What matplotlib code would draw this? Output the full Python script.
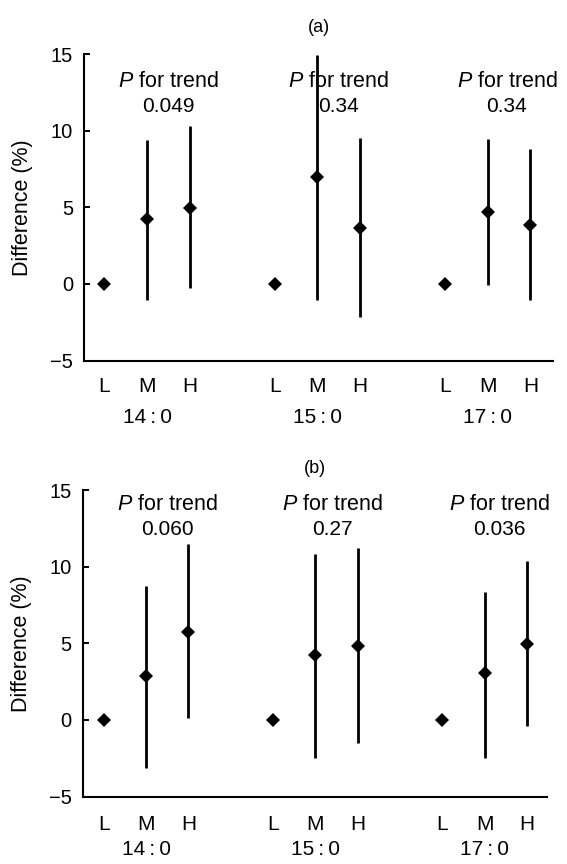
import matplotlib
matplotlib.use("Agg")
import matplotlib.pyplot as plt

plt.rcParams["font.family"] = ["Liberation Sans", "DejaVu Sans"]
plt.rcParams["mathtext.fontset"] = "custom"
plt.rcParams["mathtext.rm"] = "Liberation Sans"
plt.rcParams["mathtext.it"] = "Liberation Sans:italic"

# ---- data ----
fatty_acids = ["14\u2009:\u20090", "15\u2009:\u20090", "17\u2009:\u20090"]
levels = ["L", "M", "H"]

# panel (a)
diff_a = [[0, 4.21, 4.93], [0, 6.99, 3.66], [0, 4.71, 3.84]]
low_a = [[0, -1.07, -0.30], [0, -1.07, -2.16], [0, -0.08, -1.07]]
high_a = [[0, 9.38, 10.31], [0, 14.95, 9.54], [0, 9.46, 8.80]]
p_trend_a = ["0.049", "0.34", "0.34"]

# panel (b)
diff_b = [[0, 2.87, 5.74], [0, 4.22, 4.83], [0, 3.04, 4.93]]
low_b = [[0, -3.11, 0.15], [0, -2.52, -1.48], [0, -2.46, -0.39]]
high_b = [[0, 8.74, 11.46], [0, 10.85, 11.24], [0, 8.37, 10.37]]
p_trend_b = ["0.060", "0.27", "0.036"]

panel_titles = ["(a)", "(b)"]
y_ticks = [-5, 0, 5, 10, 15]

fig = plt.figure(figsize=(5.67, 8.64), dpi=100)

panels = [
    dict(rect=[84 / 567, 1 - 360.5 / 864, 469 / 567, 306.5 / 864], xlim=(-0.48, 10.53),
         diff=diff_a, low=low_a, high=high_a, p=p_trend_a, title=panel_titles[0],
         p_y=13.2, num_y=11.55, p_x=[1.5, 5.5, 9.45], tick_pad=12, grp_y=-0.186, title_y=1.085),
    dict(rect=[82.7 / 567, 1 - 796.5 / 864, 464 / 567, 306.5 / 864], xlim=(-0.50, 10.47),
         diff=diff_b, low=low_b, high=high_b, p=p_trend_b, title=panel_titles[1],
         p_y=14.05, num_y=12.4, p_x=[1.5, 5.4, 9.35], tick_pad=13, grp_y=-0.174, title_y=1.07),
]

for pnl in panels:
    ax = fig.add_axes(pnl["rect"])
    xs_all, lab_all = [], []
    for g in range(3):
        for k in range(3):
            x = g * 4 + k
            xs_all.append(x)
            lab_all.append(levels[k])
            if pnl["high"][g][k] != pnl["low"][g][k]:
                ax.vlines(x, pnl["low"][g][k], pnl["high"][g][k], color="black", lw=2.0)
            ax.plot(x, pnl["diff"][g][k], marker="D", ms=7.6, mew=0, color="black", ls="none")
        ax.text(g * 4 + 1, pnl["grp_y"], fatty_acids[g], transform=ax.get_xaxis_transform(),
                ha="center", va="center", fontsize=15)
        ax.text(pnl["p_x"][g], pnl["p_y"], r"$\mathit{P}$ for trend", ha="center", va="center",
                fontsize=15.5)
        ax.text(pnl["p_x"][g], pnl["num_y"], pnl["p"][g], ha="center", va="center", fontsize=15)

    ax.set_xlim(*pnl["xlim"])
    ax.set_ylim(-5, 15)
    ax.set_yticks(y_ticks)
    ax.set_yticklabels(["\u22125", "0", "5", "10", "15"])
    ax.set_xticks(xs_all)
    ax.set_xticklabels(lab_all)
    ax.tick_params(axis="x", length=0, pad=pnl["tick_pad"], labelsize=15)
    ax.tick_params(axis="y", direction="in", length=4.5, width=1.4, pad=8, labelsize=14.5)
    for s in ["top", "right"]:
        ax.spines[s].set_visible(False)
    for s in ["left", "bottom"]:
        ax.spines[s].set_linewidth(1.5)
    ax.set_ylabel("Difference (%)", fontsize=15.5, labelpad=12)
    ax.text(0.5, pnl["title_y"], pnl["title"], transform=ax.transAxes, ha="center",
            va="center", fontsize=13)

fig.savefig("out.png", dpi=100)
